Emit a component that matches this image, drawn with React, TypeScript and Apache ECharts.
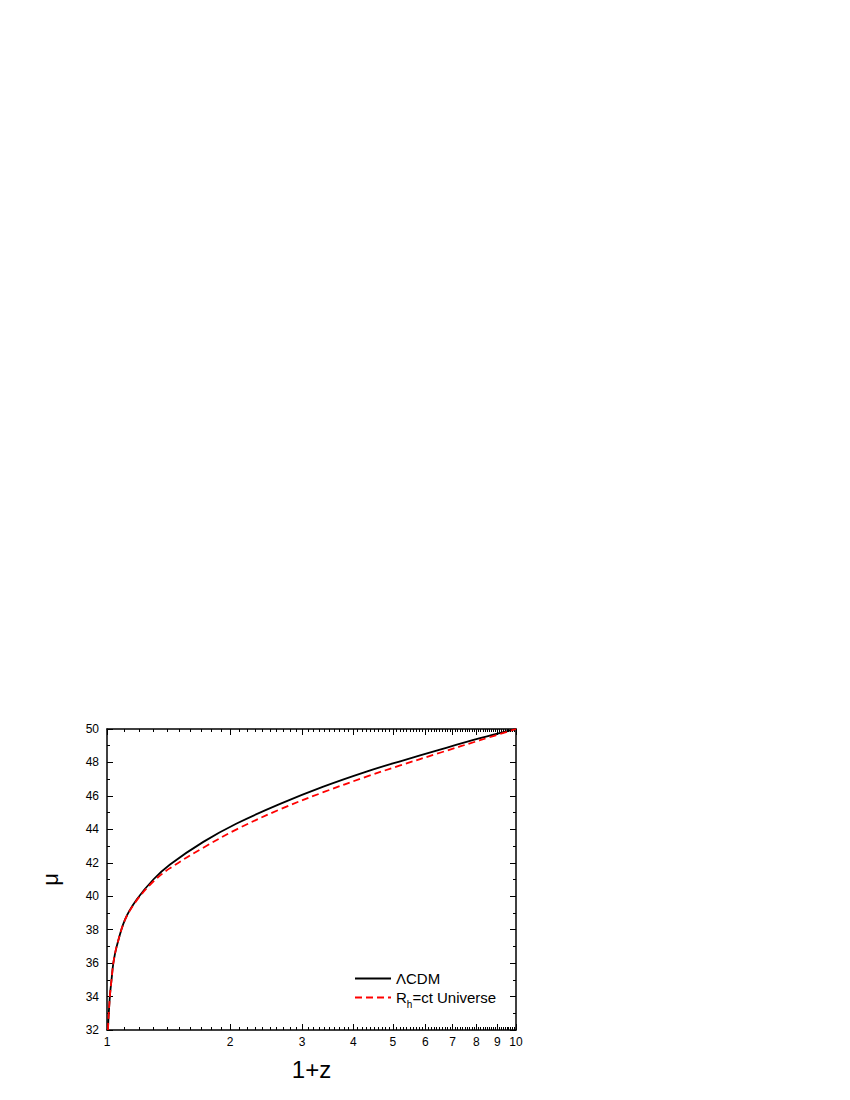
import React, { useEffect, useRef } from "react";
import * as echarts from "echarts";

// 1+z values
const zPlusOne = [1.0056, 1.0073, 1.017, 1.0268, 1.0363, 1.0561, 1.1066, 1.182, 1.298, 1.426, 1.72, 2.075, 2.65, 3.38, 4.31, 5.21, 6.52, 8.17, 10];
// distance modulus, ΛCDM
const muLCDM = [32.0, 32.5, 34.1, 35.1, 36.0, 37.0, 38.6, 39.8, 41.0, 41.9, 43.25, 44.35, 45.52, 46.55, 47.45, 48.07, 48.77, 49.45, 50.0];
// distance modulus, R_h=ct
const muRhct = [32.0, 32.5, 34.1, 35.1, 36.0, 37.0, 38.58, 39.75, 40.88, 41.68, 42.9, 44.0, 45.2, 46.22, 47.15, 47.82, 48.58, 49.33, 50.0];

const xMajorTicks = [1, 2, 3, 4, 5, 6, 7, 8, 9, 10];
const xMinorTicks = [
  1.1, 1.2, 1.3, 1.4, 1.5, 1.6, 1.7, 1.8, 1.9,
  2.1, 2.2, 2.3, 2.4, 2.5, 2.6, 2.7, 2.8, 2.9,
  3.1, 3.2, 3.3, 3.4, 3.5, 3.6, 3.7, 3.8, 3.9,
  4.1, 4.2, 4.3, 4.4, 4.5, 4.6, 4.7, 4.8, 4.9,
  5.1, 5.2, 5.3, 5.4, 5.5, 5.6, 5.7, 5.8, 5.9,
  6.1, 6.2, 6.3, 6.4, 6.5, 6.6, 6.7, 6.8, 6.9,
  7.1, 7.2, 7.3, 7.4, 7.5, 7.6, 7.7, 7.8, 7.9,
  8.1, 8.2, 8.3, 8.4, 8.5, 8.6, 8.7, 8.8, 8.9,
  9.1, 9.2, 9.3, 9.4, 9.5, 9.6, 9.7, 9.8, 9.9,
];
const yTicks = { min: 32, max: 50, interval: 2 };

const FONT = "'Liberation Sans', Arial, Helvetica, sans-serif";

export default function App() {
  const ref = useRef<HTMLDivElement>(null);
  useEffect(() => {
    if (!ref.current) return;
    const chart = echarts.init(ref.current, null, { renderer: "svg" });
    const lineStyleAxis = { color: "#000", width: 1.5 };
    const majorPos = xMajorTicks.map((v) => Math.log10(v));
    const minorPos = xMinorTicks.map((v) => Math.log10(v));
    const overlayX = (position: "bottom" | "top", major: boolean) => ({
      type: "value",
      gridIndex: 0,
      position,
      min: 0,
      max: 1,
      axisLine: { show: major, onZero: false, lineStyle: lineStyleAxis },
      axisTick: {
        show: true,
        inside: true,
        length: major ? 6 : 3,
        customValues: major ? majorPos : minorPos,
        lineStyle: { color: "#000", width: 1 },
      },
      axisLabel: {
        show: major && position === "bottom",
        customValues: majorPos,
        margin: 6,
        color: "#000",
        fontSize: 12,
        fontFamily: FONT,
        formatter: (v: number) => String(Math.round(Math.pow(10, v))),
      },
      splitLine: { show: false },
      minorTick: { show: false },
    });
    const yAxisDef = (position: "left" | "right") => ({
      type: "value",
      position,
      min: yTicks.min,
      max: yTicks.max,
      interval: yTicks.interval,
      name: position === "left" ? "μ" : "",
      nameLocation: "middle",
      nameGap: 46,
      nameTextStyle: { fontSize: 22, color: "#000", fontFamily: FONT },
      axisLine: { show: true, onZero: false, lineStyle: lineStyleAxis },
      axisTick: { show: true, inside: true, length: 6, lineStyle: { color: "#000", width: 1 } },
      minorTick: { show: true, splitNumber: 2, length: 3, lineStyle: { color: "#000", width: 1 } },
      axisLabel: {
        show: position === "left",
        margin: 8,
        color: "#000",
        fontSize: 12,
        fontFamily: FONT,
      },
      splitLine: { show: false },
      minorSplitLine: { show: false },
    });
    chart.setOption({
      animation: false,
      backgroundColor: "#fff",
      grid: { left: 107, right: 334, top: 729, bottom: 70, containLabel: false },
      xAxis: [
        {
          type: "log",
          logBase: 10,
          min: 1,
          max: 10,
          position: "bottom",
          name: "1+z",
          nameLocation: "middle",
          nameGap: 27,
          nameTextStyle: { fontSize: 24, color: "#000", fontFamily: FONT },
          axisLine: { show: false, onZero: false },
          axisTick: { show: false },
          axisLabel: { show: false },
          splitLine: { show: false },
        },
        overlayX("bottom", true),
        overlayX("bottom", false),
        overlayX("top", true),
        overlayX("top", false),
      ],
      yAxis: [yAxisDef("left"), yAxisDef("right")],
      legend: {
        orient: "vertical",
        left: 349,
        top: 966,
        itemWidth: 36,
        itemHeight: 14,
        itemGap: 4,
        itemStyle: { opacity: 0 },
        textStyle: {
          fontSize: 15,
          color: "#000",
          fontFamily: FONT,
          rich: {
            sub: { fontSize: 10, fontFamily: FONT, color: "#000", verticalAlign: "bottom", lineHeight: 24 },
          },
        },
        formatter: (name: string) => (name.startsWith("R") ? "R{sub|h}=ct Universe" : name),
        data: ["ΛCDM", "R_h=ct Universe"],
      },
      series: [
        {
          name: "ΛCDM",
          type: "line",
          xAxisIndex: 0,
          yAxisIndex: 0,
          data: zPlusOne.map((x, i) => [x, muLCDM[i]]),
          symbol: "none",
          smooth: 0.35,
          lineStyle: { color: "#000", width: 1.8, type: "solid" },
          itemStyle: { color: "#000" },
        },
        {
          name: "R_h=ct Universe",
          type: "line",
          xAxisIndex: 0,
          yAxisIndex: 0,
          data: zPlusOne.map((x, i) => [x, muRhct[i]]),
          symbol: "none",
          smooth: 0.35,
          lineStyle: { color: "#ff0000", width: 1.8, type: [7, 4] },
          itemStyle: { color: "#ff0000" },
        },
      ],
    });
    return () => chart.dispose();
  }, []);
  return (
    <div
      ref={ref}
      style={{ position: "fixed", left: 0, top: 0, width: 850, height: 1100, background: "#fff" }}
    />
  );
}
